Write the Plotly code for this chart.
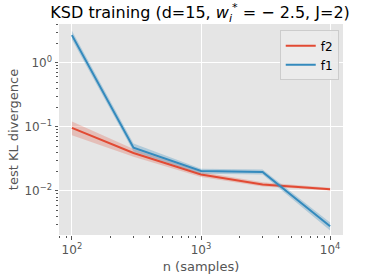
import plotly.graph_objects as go

n_samples = [100, 300, 1000, 3000, 10000]

f2_mean = [0.096, 0.039, 0.018, 0.0126, 0.0106]
f2_lo = [0.074, 0.034, 0.0165, 0.0117, 0.0101]
f2_hi = [0.121, 0.045, 0.0196, 0.0136, 0.0112]

f1_mean = [2.7, 0.047, 0.0204, 0.0197, 0.0028]
f1_lo = [2.3, 0.041, 0.0185, 0.018, 0.0024]
f1_hi = [3.15, 0.055, 0.0222, 0.0215, 0.0032]

x_decades = [2, 3, 4]
y_decades = [0, -1, -2]

series = [
    ("f2", f2_mean, f2_lo, f2_hi, "#E24A33", "rgba(226,74,51,0.25)"),
    ("f1", f1_mean, f1_lo, f1_hi, "#348ABD", "rgba(52,138,189,0.3)"),
]

fig = go.Figure()
for name, m, lo, hi, col, fill in series:
    fig.add_trace(go.Scatter(x=n_samples, y=hi, mode="lines", line=dict(width=0),
                             showlegend=False, hoverinfo="skip"))
    fig.add_trace(go.Scatter(x=n_samples, y=lo, mode="lines", line=dict(width=0),
                             fill="tonexty", fillcolor=fill, showlegend=False, hoverinfo="skip"))
    fig.add_trace(go.Scatter(x=n_samples, y=m, mode="lines", name=name,
                             line=dict(color=col, width=2)))


def sup(e):
    return "10<sup>" + str(e).replace("-", "\u2212") + "</sup>"


def minor_vals(lo_dec, hi_dec):
    return [k * 10 ** d for d in range(lo_dec, hi_dec + 1) for k in range(2, 10)]


axis_common = dict(
    type="log", tickmode="array", showgrid=True, gridcolor="white",
    gridwidth=1, zeroline=False, ticks="outside", ticklen=3.5, tickcolor="#555555",
    tickfont=dict(family="DejaVu Sans", size=12, color="#555555"),
    showline=False, automargin=False,
)

fig.update_layout(
    width=374, height=279,
    margin=dict(l=59, r=31, t=24, b=44),
    paper_bgcolor="white", plot_bgcolor="#E5E5E5",
    title=dict(text="KSD training (d=15, <i>w</i><sub><i>i</i></sub><sup>*</sup> = \u2212 2.5, J=2)",
               x=0.535, xanchor="center", y=0.955, yanchor="middle",
               font=dict(family="DejaVu Sans", size=16, color="black")),
    xaxis=dict(axis_common, range=[1.9, 4.1],
               tickvals=[10 ** d for d in x_decades], ticktext=[sup(d) for d in x_decades],
               minor=dict(tickmode="array", tickvals=minor_vals(1, 4), ticks="outside",
                          ticklen=2, tickcolor="#555555", showgrid=False),
               title=dict(text="n (samples)", standoff=5,
                          font=dict(family="DejaVu Sans", size=13, color="#555555"))),
    yaxis=dict(axis_common, range=[-2.69, 0.605],
               tickvals=[10 ** d for d in y_decades], ticktext=[sup(d) for d in y_decades],
               minor=dict(tickmode="array", tickvals=minor_vals(-3, 0), ticks="outside",
                          ticklen=2, tickcolor="#555555", showgrid=False),
               title=dict(text="test KL divergence", standoff=2,
                          font=dict(family="DejaVu Sans", size=13, color="#555555"))),
    legend=dict(x=0.985, y=0.97, xanchor="right", yanchor="top", traceorder="normal",
                bgcolor="rgba(235,235,235,0.9)", bordercolor="#CCCCCC", borderwidth=1,
                font=dict(family="DejaVu Sans", size=12, color="black"),
                itemwidth=30, tracegroupgap=0),
    showlegend=True,
)

fig.write_html("out.html", config={"displayModeBar": False},
               post_script="document.body.style.margin='0px';")
